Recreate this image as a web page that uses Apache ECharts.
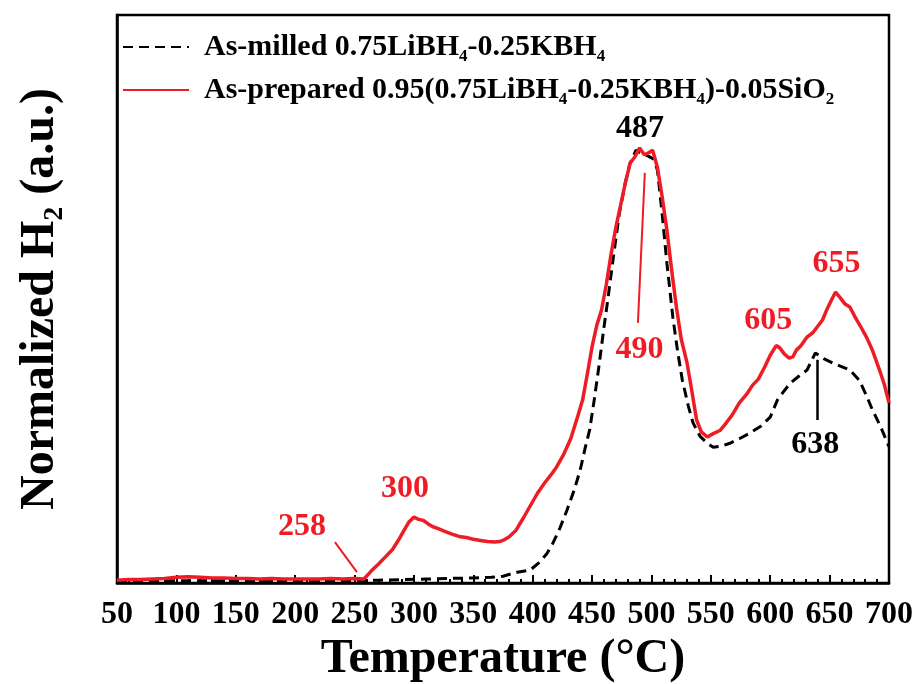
<!DOCTYPE html>
<html>
<head>
<meta charset="utf-8">
<script src="https://cdn.jsdelivr.net/npm/echarts@6/dist/echarts.min.js"></script>
<style>
  html, body { margin: 0; padding: 0; background: #fff; }
  #chart { width: 920px; height: 684px; }
</style>
</head>
<body>
<div id="chart"></div>
<script>
// Temperature-programmed H2 release, normalized signal (a.u.) vs temperature (°C)

const xTicks = [50, 100, 150, 200, 250, 300, 350, 400, 450, 500, 550, 600, 650, 700];

// As-milled 0.75LiBH4-0.25KBH4 (dashed black)
const milledT = [50, 100, 150, 200, 250, 270, 290, 310, 330, 350, 365, 375, 387, 398, 406, 412, 417, 423, 429, 435, 440, 444, 448, 452, 456, 460, 463, 468, 473, 478, 482, 487, 492, 497, 502, 505, 509, 513, 518, 522, 526, 531, 535, 541, 547, 552, 559, 566, 574, 583, 592, 600, 606, 612, 617, 624, 631, 638, 645, 653, 660, 667, 675, 681, 686, 693, 700];
const milledH2 = [0.3, 0.4, 0.4, 0.4, 0.4, 0.5, 0.6, 0.7, 0.8, 0.9, 1.0, 1.2, 1.9, 2.3, 3.7, 5.2, 7.0, 9.7, 12.9, 16.4, 19.9, 23.6, 27.0, 32.5, 38.5, 45.0, 49.5, 57.5, 65.1, 70.5, 73.9, 76.2, 75.6, 75.2, 74.6, 72.7, 65.0, 56.3, 46.8, 40.8, 35.7, 31.2, 28.2, 25.8, 24.6, 23.9, 24.1, 24.6, 25.4, 26.4, 27.6, 29.2, 32.2, 33.9, 35.2, 36.4, 37.5, 40.5, 39.5, 38.7, 38.1, 37.5, 35.7, 33.0, 30.5, 27.5, 24.0];

// As-prepared 0.95(0.75LiBH4-0.25KBH4)-0.05SiO2 (solid red)
const preparedT = [50, 60, 70, 80, 90, 100, 110, 120, 130, 140, 150, 160, 170, 180, 190, 200, 210, 220, 230, 240, 250, 258, 264, 270, 276, 282, 288, 292, 296, 300, 304, 308, 312, 316, 320, 326, 332, 338, 344, 350, 356, 362, 368, 372, 376, 380, 386, 392, 398, 404, 410, 416, 420, 426, 432, 438, 442, 446, 450, 454, 458, 462, 466, 470, 474, 478, 482, 486, 490, 494, 498, 501, 505, 509, 513, 517, 521, 525, 530, 534, 538, 542, 547, 552, 558, 563, 568, 574, 580, 585, 590, 595, 600, 605, 608, 612, 616, 619, 622, 626, 631, 636, 640, 644, 648, 652, 655, 659, 663, 667, 671, 676, 681, 686, 692, 696, 700];
const preparedH2 = [0.5, 0.6, 0.6, 0.7, 0.8, 1.0, 1.1, 1.0, 0.9, 0.9, 0.8, 0.8, 0.7, 0.8, 0.7, 0.7, 0.7, 0.7, 0.8, 0.7, 0.8, 0.7, 2.1, 3.3, 4.6, 5.9, 7.9, 9.4, 10.8, 11.6, 11.2, 11.0, 10.4, 9.9, 9.6, 9.1, 8.6, 8.2, 8.0, 7.7, 7.5, 7.3, 7.2, 7.3, 7.6, 8.1, 9.3, 11.4, 13.6, 15.8, 17.6, 19.2, 20.4, 22.6, 25.4, 29.4, 32.2, 36.8, 41.6, 45.4, 48.1, 52.6, 57.9, 62.6, 66.5, 70.4, 73.9, 75.0, 76.6, 75.4, 75.8, 76.2, 73.2, 68.0, 62.1, 55.1, 48.6, 43.0, 38.7, 33.8, 28.7, 26.6, 25.7, 26.3, 26.9, 28.2, 29.6, 31.7, 33.2, 34.8, 35.9, 37.9, 40.1, 41.8, 41.4, 40.3, 39.6, 39.8, 41.0, 41.8, 43.3, 44.1, 45.2, 46.3, 48.3, 50.0, 51.2, 50.2, 49.1, 48.6, 47.0, 45.2, 43.3, 41.0, 37.5, 35.0, 31.7];

// Peak temperatures labelled on each curve
const milledPeaks = [487, 638];
const preparedPeaks = [258, 300, 490, 605, 655];

const milledName = 'As-milled 0.75LiBH4-0.25KBH4';
const preparedName = 'As-prepared 0.95(0.75LiBH4-0.25KBH4)-0.05SiO2';

const FONT = '"Liberation Serif", "Times New Roman", serif';
const RED = '#ee1c24';

function pairs(ts, vs) { return ts.map((t, i) => [t, vs[i]]); }
function valueAt(ts, vs, t) { return vs[ts.indexOf(t)]; }

// label placement (pixel offsets from the peak point)
const labelOffsets = { 487: [4, -21], 638: [0, 92], 258: [-62, -52], 300: [-9, -28], 490: [0, 202], 605: [-8, -25], 655: [1, -28] };

function peakMarks(ts, vs, peaks, color) {
  return peaks.map(p => ({
    coord: [p, valueAt(ts, vs, p)],
    symbol: 'circle', symbolSize: 1,
    itemStyle: { color: 'rgba(0,0,0,0)' },
    label: {
      show: true, formatter: String(p), position: 'inside', offset: labelOffsets[p],
      color: color, fontFamily: FONT, fontWeight: 'bold', fontSize: 32
    }
  }));
}

// pointer arrows: [tail, tip] in data space
const v258 = valueAt(preparedT, preparedH2, 258);
const v490 = valueAt(preparedT, preparedH2, 490);
const v638 = valueAt(milledT, milledH2, 638);
const redArrows = [
  [[233.5, v258 + 6.5], [252, v258 + 1.2]],
  [[488.6, v490 - 30.8], [494.4, v490 - 4.4]]
];
const blackArrows = [
  [[640, v638 - 11.8], [640, v638 - 1.2]]
];
function arrowData(list) {
  return list.map(a => [{ coord: a[0] }, { coord: a[1] }]);
}

function richName(name) {
  return name.replace(/([A-Za-z\)])(\d)(?=-|\)|$)/g, '$1{s|$2}');
}

const chart = echarts.init(document.getElementById('chart'), null, { renderer: 'canvas' });
chart.setOption({
  animation: false,
  backgroundColor: '#fff',
  grid: { left: 117, right: 31, top: 15, bottom: 101, containLabel: false, outerBoundsMode: 'none',
    show: true, borderColor: '#000', borderWidth: 2.5 },
  legend: {
    orient: 'vertical', left: 117, top: 24, itemWidth: 66, itemHeight: 14, itemGap: 7,
    data: [milledName, preparedName],
    formatter: n => richName(n),
    itemStyle: { opacity: 0 },
    textStyle: {
      fontFamily: FONT, fontWeight: 'bold', fontSize: 30, color: '#000', lineHeight: 36,
      padding: [0, 0, 0, 10],
      rich: { s: { fontFamily: FONT, fontWeight: 'bold', fontSize: 17, lineHeight: 17, verticalAlign: 'bottom', color: '#000' } }
    }
  },
  xAxis: {
    type: 'value', min: 50, max: 700, interval: 50,
    name: 'Temperature (°C)', nameLocation: 'middle', nameGap: 50,
    nameTextStyle: { fontFamily: FONT, fontWeight: 'bold', fontSize: 48, color: '#000' },
    axisLine: { show: true, lineStyle: { color: '#000', width: 2.5 } },
    axisTick: { show: true, inside: true, length: 8, lineStyle: { color: '#000', width: 2 } },
    minorTick: { show: true, splitNumber: 5, length: 4, lineStyle: { color: '#000', width: 2 } },
    axisLabel: { fontFamily: FONT, fontWeight: 'bold', fontSize: 32, color: '#000', margin: 16,
      formatter: v => (xTicks.indexOf(v) >= 0 ? String(v) : '') },
    splitLine: { show: false }
  },
  yAxis: {
    type: 'value', min: 0, max: 100,
    name: 'Normalized H{s|2} (a.u.)', nameLocation: 'middle', nameGap: 48, nameRotate: 90,
    nameTextStyle: { fontFamily: FONT, fontWeight: 'bold', fontSize: 48, color: '#000', lineHeight: 56,
      rich: { s: { fontFamily: FONT, fontWeight: 'bold', fontSize: 28, lineHeight: 28, verticalAlign: 'bottom', color: '#000' } } },
    axisLine: { show: true, lineStyle: { color: '#000', width: 2.5 } },
    axisTick: { show: false }, axisLabel: { show: false }, splitLine: { show: false }
  },
  series: [
    {
      name: milledName, type: 'line', data: pairs(milledT, milledH2), showSymbol: false, symbol: 'none',
      lineStyle: { color: '#000', width: 3, type: [10, 6] }, itemStyle: { color: '#000' }, z: 2,
      markPoint: { data: peakMarks(milledT, milledH2, milledPeaks, '#000') },
      markLine: {
        silent: true, symbol: ['none', 'arrow'], symbolSize: [0, 14],
        lineStyle: { color: '#000', width: 2.5, type: 'solid' }, label: { show: false },
        data: arrowData(blackArrows)
      }
    },
    {
      name: preparedName, type: 'line', data: pairs(preparedT, preparedH2), showSymbol: false, symbol: 'none',
      lineStyle: { color: RED, width: 3.5 }, itemStyle: { color: RED }, z: 3,
      markPoint: { data: peakMarks(preparedT, preparedH2, preparedPeaks, RED) },
      markLine: {
        silent: true, symbol: ['none', 'arrow'], symbolSize: [0, 13],
        lineStyle: { color: RED, width: 2, type: 'solid' }, label: { show: false },
        data: arrowData(redArrows)
      }
    }
  ]
});
</script>
</body>
</html>
